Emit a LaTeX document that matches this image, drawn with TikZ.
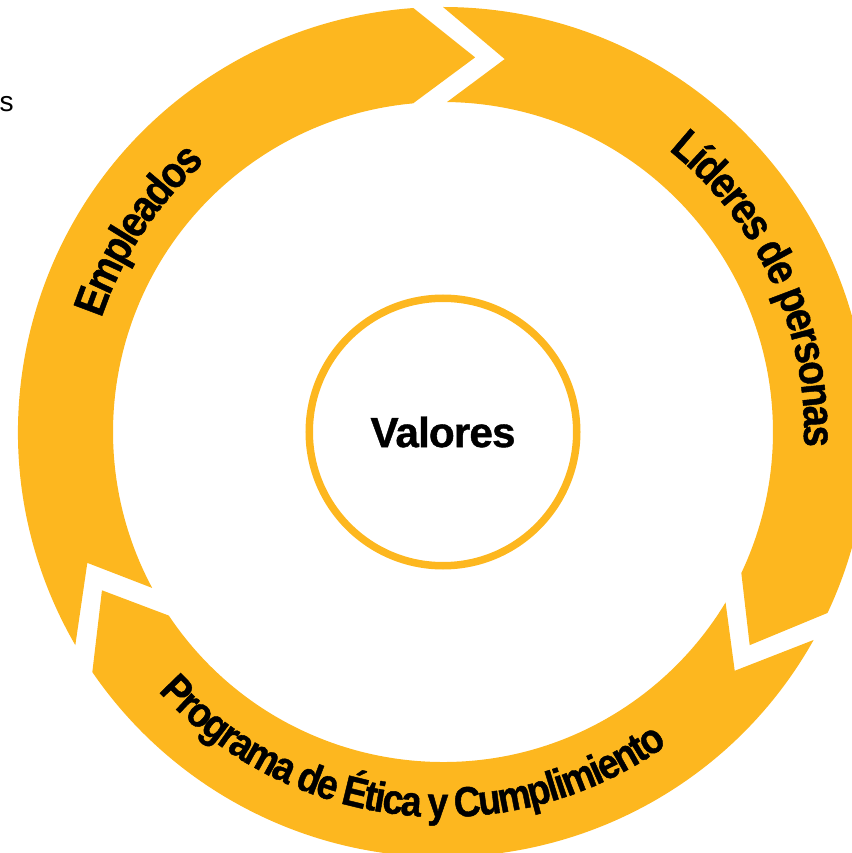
\documentclass[tikz,border=0pt]{standalone}
\usepackage{fontspec}
\setmainfont{Liberation Sans}
\newfontfamily\ringfont[FakeBold=1, FakeStretch=0.88]{Liberation Sans}
\newfontfamily\centrefont[LetterSpace=-2, FakeBold=1]{Liberation Sans}
\usetikzlibrary{decorations.text}
\definecolor{ringyellow}{HTML}{FDB71F}
\begin{document}
\begin{tikzpicture}[
  seg/.style={fill=ringyellow, draw=none},
  centre/.style={circle, draw=ringyellow, line width=0.15cm, minimum size=5.35cm, inner sep=0pt},
  bigfont/.style={font=\centrefont\bfseries\fontsize{24}{28}\selectfont},
  ringlabel/.style n args={3}{decorate, decoration={text effects along path, text={#1}, text align=center,
    text effects/.cd, text along path,
    character widths={inner xsep=#3, font=\ringfont\bfseries\fontsize{#2}{#2}\selectfont},
    characters={inner xsep=#3, font=\ringfont\bfseries\fontsize{#2}{#2}\selectfont, text=black}}}
]
\useasboundingbox (-8.86,-8.42) rectangle (8.18,8.64);
\clip (-8.86,-8.42) rectangle (8.18,8.64);
% Empleados segment
\fill[seg] (210.1:8.5) arc[start angle=210.1,end angle=94,radius=8.5cm] -- (85.1:7.52) -- (95.2:6.6)
  arc[start angle=95.2,end angle=208.2,radius=6.6cm] -- (200.2:7.58) -- cycle;
% Lideres segment
\fill[seg] (90:8.5) arc[start angle=90,end angle=-25.2,radius=8.5cm] -- (-34.8:7.47) -- (-25.3:6.6)
  arc[start angle=-25.3,end angle=89.3,radius=6.6cm] -- (80.6:7.56) -- cycle;
% Programa segment
\fill[seg] (-29.3:8.5) arc[start angle=-29.3,end angle=-145.6,radius=8.5cm] -- (-155.1:7.52) -- (-146.2:6.6)
  arc[start angle=-146.2,end angle=-31.1,radius=6.6cm] -- (-39.3:7.54) -- cycle;
% centre
\node[centre, bigfont] (valores) at (0,0) {Valores};
% ring texts
\path[ringlabel={Empleados}{25}{-0.6pt}]
  (186.5:7.2) arc[start angle=186.5,end angle=106.5,radius=7.2cm];
\path[ringlabel={Líderes de personas}{25}{-0.6pt}]
  (69.5:7.22) arc[start angle=69.5,end angle=-20.5,radius=7.22cm];
\path[ringlabel={Programa de Ética y Cumplimiento}{24}{-0.5pt}]
  (194:7.7) arc[start angle=194,end angle=334,radius=7.7cm];
% cut-off text at top left
\node[anchor=base east, inner sep=0pt, font=\fontsize{16}{19}\selectfont] (cut) at (-8.58,6.4) {s};
\end{tikzpicture}
\end{document}
